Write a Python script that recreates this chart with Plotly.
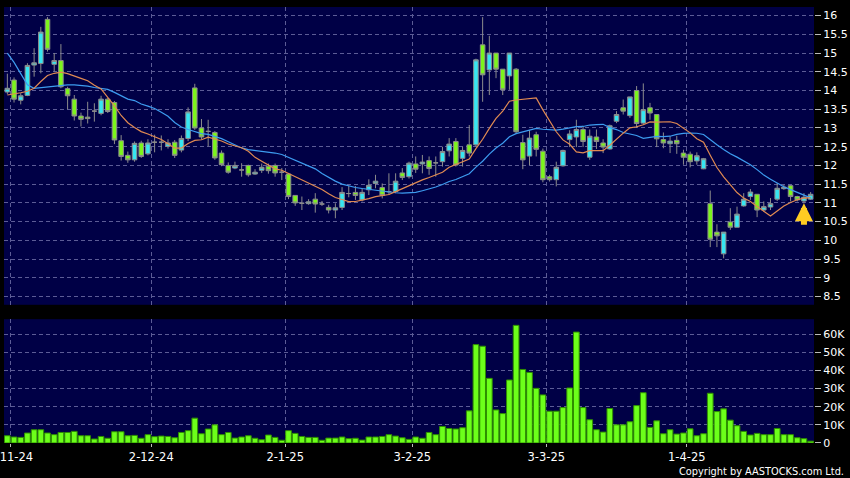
import numpy as np
import pandas as pd
import plotly.graph_objects as go

# ---------------- data ----------------
opens = [13.96, 14.28, 13.74, 13.87, 14.68, 14.72, 15.9, 14.7, 14.8, 14.05,
         13.77, 13.32, 13.29, 13.45, 13.39, 13.77, 13.68, 12.66, 12.27, 12.15,
         12.6, 12.31, 12.62, 12.62, 12.51, 12.62, 12.41, 12.72, 14.07, 13.0,
         12.91, 12.88, 12.33, 12.0, 11.93, 11.88, 12.0, 11.77, 11.87, 11.98,
         12.0, 11.82, 11.77, 11.2, 10.99, 10.98, 11.1, 10.97, 10.88, 10.81,
         10.88, 11.25, 11.28, 11.08, 11.35, 11.52, 11.41, 11.3, 11.3, 11.8,
         11.7, 12.04, 12.04, 12.13, 12.07, 12.1, 12.39, 12.64, 12.19, 12.55,
         12.55, 15.22, 14.55, 15.0, 14.57, 14.39, 14.57, 12.61, 12.25, 12.82,
         12.38, 11.7, 11.62, 11.99, 12.69, 12.76, 12.96, 12.22, 12.76, 12.6,
         12.44, 13.18, 13.54, 13.33, 14.0, 13.13, 13.54, 13.36, 12.69, 12.58,
         12.67, 12.33, 12.3, 12.12, 11.91, 10.98, 10.22, 9.64, 10.49, 10.35,
         10.92, 11.17, 11.23, 10.81, 10.89, 11.1, 11.38, 11.46, 11.17, 11.05,
         11.1]
highs = [14.45, 14.35, 13.93, 14.73, 15.13, 15.7, 15.96, 15.0, 15.24, 14.1,
         13.88, 13.41, 13.7, 13.66, 13.86, 13.8, 13.72, 12.81, 12.37, 12.64,
         12.66, 12.7, 12.82, 12.8, 12.7, 12.68, 12.8, 13.55, 14.18, 13.24,
         13.22, 12.92, 12.4, 12.08, 12.1, 12.06, 12.02, 11.9, 12.05, 12.05,
         12.05, 11.93, 11.8, 11.21, 11.17, 11.1, 11.26, 11.05, 10.95, 10.99,
         11.42, 11.45, 11.45, 11.39, 11.63, 11.75, 11.52, 11.79, 11.79, 11.93,
         12.1, 12.24, 12.28, 12.24, 12.24, 12.5, 12.73, 12.73, 12.5, 13.08,
         14.85, 15.96, 15.46, 15.0, 14.57, 15.0, 14.6, 12.82, 12.95, 12.9,
         12.45, 11.75, 12.1, 12.42, 12.94, 13.22, 13.06, 12.96, 12.96, 12.7,
         13.09, 13.45, 13.76, 13.83, 14.12, 14.19, 13.67, 13.36, 12.88, 12.78,
         12.79, 12.42, 12.37, 12.35, 12.2, 11.33, 10.43, 10.22, 10.86, 10.9,
         11.26, 11.37, 11.23, 11.04, 11.13, 11.53, 11.48, 11.48, 11.19, 11.26,
         11.29]
lows = [13.9, 13.68, 13.63, 13.85, 14.37, 14.46, 15.04, 14.5, 14.06, 13.5,
        13.2, 13.04, 13.12, 13.17, 13.34, 13.4, 12.57, 12.13, 12.07, 12.1,
        12.2, 12.27, 12.35, 12.4, 12.45, 12.2, 12.35, 12.65, 12.95, 12.7,
        12.51, 12.15, 11.98, 11.78, 11.9, 11.7, 11.7, 11.75, 11.8, 11.78,
        11.7, 11.61, 11.1, 10.92, 10.81, 10.95, 10.74, 10.92, 10.72, 10.59,
        10.81, 11.15, 11.08, 11.04, 11.21, 11.39, 11.12, 11.21, 11.26, 11.61,
        11.65, 11.8, 11.79, 11.75, 11.7, 11.97, 12.24, 11.97, 11.97, 12.24,
        12.5, 13.7, 13.88, 14.33, 13.88, 14.02, 12.84, 11.9, 12.01, 12.24,
        11.55, 11.57, 11.44, 11.97, 12.49, 12.49, 12.49, 12.15, 12.44, 12.33,
        12.42, 13.13, 13.36, 13.27, 13.0, 13.09, 13.22, 12.49, 12.46, 12.33,
        12.31, 12.02, 11.95, 12.02, 11.9, 9.82, 9.82, 9.52, 10.28, 10.35,
        10.9, 11.08, 10.62, 10.77, 10.81, 11.05, 11.35, 11.04, 11.04, 10.99,
        11.08]
closes = [14.06, 13.77, 13.86, 14.67, 14.74, 15.56, 15.1, 14.8, 14.1, 13.86,
          13.32, 13.23, 13.25, 13.45, 13.77, 13.44, 12.68, 12.24, 12.15, 12.59,
          12.24, 12.6, 12.62, 12.62, 12.6, 12.27, 12.72, 13.43, 13.0, 12.76,
          12.91, 12.2, 12.02, 11.82, 12.0, 11.88, 11.75, 11.82, 11.95, 11.86,
          11.8, 11.82, 11.17, 11.0, 10.99, 11.03, 10.97, 10.97, 10.81, 10.87,
          11.28, 11.25, 11.2, 11.28, 11.47, 11.58, 11.2, 11.3, 11.58, 11.68,
          12.06, 11.9, 12.09, 11.92, 12.07, 12.37, 12.57, 12.01, 12.4, 12.33,
          14.82, 14.42, 15.0, 14.57, 14.02, 15.0, 12.9, 12.15, 12.73, 12.43,
          11.62, 11.62, 11.95, 12.4, 12.84, 12.96, 12.64, 12.78, 12.64, 12.49,
          13.06, 13.36, 13.45, 13.83, 13.12, 13.49, 13.4, 12.71, 12.6, 12.65,
          12.58, 12.22, 12.1, 12.26, 12.18, 10.03, 10.12, 10.22, 10.35, 10.7,
          11.1, 11.29, 10.81, 10.9, 10.98, 11.39, 11.42, 11.17, 11.08, 11.15,
          11.23]
volumes_k = [4.0, 3.3, 3.1, 5.5, 7.3, 7.3, 5.5, 4.6, 5.8, 5.8,
             6.4, 4.0, 4.0, 2.2, 3.6, 2.6, 6.2, 6.2, 4.0, 4.2,
             2.6, 4.6, 3.5, 3.8, 3.6, 2.9, 5.8, 6.8, 13.7, 5.1,
             7.7, 10.0, 4.6, 5.8, 2.7, 3.3, 4.0, 2.6, 1.8, 4.4,
             3.1, 1.5, 6.8, 5.3, 3.6, 3.1, 3.1, 1.5, 2.7, 2.7,
             3.3, 2.4, 2.6, 1.6, 3.3, 3.3, 3.6, 4.6, 3.8, 2.9,
             2.0, 3.3, 2.6, 5.8, 4.6, 9.1, 8.0, 7.7, 8.4, 17.7,
             54.2, 53.3, 35.6, 18.2, 16.2, 34.7, 64.8, 40.5, 38.9, 30.1,
             26.5, 17.5, 17.5, 19.5, 30.3, 61.1, 19.5, 12.8, 7.3, 6.0,
             19.0, 10.0, 10.0, 11.7, 20.6, 27.7, 8.6, 12.2, 5.1, 7.3,
             4.9, 5.5, 7.8, 4.0, 5.1, 27.4, 17.3, 18.8, 12.6, 9.5,
             6.4, 4.4, 5.3, 4.6, 4.6, 8.0, 4.6, 4.6, 2.9, 2.4,
             1.0]
ma10_start = [13.88, 13.9, 13.94, 13.98, 14.06, 14.24, 14.4, 14.46, 14.49]
ma20_start = [15.0, 14.75, 14.45, 14.15, 14.06, 14.08, 14.1, 14.12, 14.14, 14.15,
              14.15, 14.14, 14.12, 14.08, 14.06, 14.03, 13.95, 13.85, 13.77]

date_labels = ["1-11-24", "2-12-24", "2-1-25", "3-2-25", "3-3-25", "1-4-25"]
date_label_days = [1, 22, 42, 61, 81, 102]   # trading-day index of each labelled date
price_ticks = [8.5, 9, 9.5, 10, 10.5, 11, 11.5, 12, 12.5, 13, 13.5, 14, 14.5, 15, 15.5, 16]
vol_ticks = [0, 10000, 20000, 30000, 40000, 50000, 60000]
vol_tick_text = ["0", "10K", "20K", "30K", "40K", "50K", "60K"]
marked_day = 119

# ---------------- derived ----------------
n = len(closes)
idx = np.arange(n)
o = np.array(opens); h = np.array(highs); l = np.array(lows); c = np.array(closes)
ma10 = pd.Series(closes).rolling(10).mean().to_numpy()
ma10[:len(ma10_start)] = ma10_start
ma20 = pd.Series(closes).rolling(20).mean().to_numpy()
ma20[:len(ma20_start)] = ma20_start
vol = np.array(volumes_k) * 1000

CYAN = "#36e6f2"
GREEN = "#7cf51c"
GREY = "#9a9a9a"
WICK = "#8c8c8c"
NAVY = "#000046"
GRID = "#5c5c96"

fig = go.Figure()

def add_candles(mask, fill):
    fig.add_trace(go.Candlestick(
        x=idx[mask], open=o[mask], high=h[mask], low=l[mask], close=c[mask],
        increasing=dict(fillcolor=fill, line=dict(color=WICK, width=1)),
        decreasing=dict(fillcolor=fill, line=dict(color=WICK, width=1)),
        whiskerwidth=0, xaxis="x", yaxis="y", hoverinfo="skip"))

add_candles(c > o, CYAN)
add_candles(c < o, GREEN)
add_candles(c == o, GREY)

fig.add_trace(go.Scatter(x=idx, y=ma20, mode="lines",
                         line=dict(color="#3d9cf0", width=1.2), xaxis="x", yaxis="y"))
fig.add_trace(go.Scatter(x=idx, y=ma10, mode="lines",
                         line=dict(color="#e08a52", width=1.2), xaxis="x", yaxis="y"))

fig.add_trace(go.Bar(x=idx, y=vol, marker=dict(color="#6cff1a", line=dict(color="#2f8f00", width=1)),
                     xaxis="x2", yaxis="y2"))

grid_pos = [d - 0.5 for d in date_label_days]
axis_font = dict(family="DejaVu Sans", size=11, color="white")
date_font = dict(family="DejaVu Sans", size=11.5, color="white")

common_x = dict(range=[-0.5, 120.5], showgrid=True, gridcolor=GRID, griddash="4px,3px",
                gridwidth=1, zeroline=False, showline=False, tickvals=grid_pos,
                ticktext=date_labels, fixedrange=True, ticklabeloverflow="allow",
                automargin=False)

fig.update_layout(
    width=850, height=478,
    margin=dict(l=4, r=36, t=7, b=35, autoexpand=False),
    paper_bgcolor="black", plot_bgcolor=NAVY,
    showlegend=False,
    bargap=0.15,
    boxgap=0.32, boxgroupgap=0,
    xaxis=dict(**common_x, anchor="y", showticklabels=False, ticks="",
               rangeslider=dict(visible=False)),
    xaxis2=dict(**common_x, anchor="y2", showticklabels=True, ticks="outside",
                ticklen=3, tickcolor="#bbbbbb", tickfont=date_font),
    yaxis=dict(domain=[0.317, 1], range=[8.28, 16.23], side="right", tickvals=price_ticks,
               ticks="outside", ticklen=6, tickcolor="#bbbbbb", tickfont=axis_font,
               showgrid=True, gridcolor=GRID, griddash="4px,3px", zeroline=False,
               anchor="x", ticklabeloverflow="allow", automargin=False, fixedrange=True),
    yaxis2=dict(domain=[0, 0.284], range=[0, 68200], side="right", tickvals=vol_ticks,
                ticktext=vol_tick_text, ticks="outside", ticklen=6, tickcolor="#bbbbbb",
                tickfont=axis_font, showgrid=True, gridcolor=GRID, griddash="4px,3px",
                zeroline=False, anchor="x2", ticklabeloverflow="allow", automargin=False,
                fixedrange=True),
)

fig.add_annotation(x=marked_day, y=l[marked_day], xref="x", yref="y", text="",
                   showarrow=True, arrowhead=2, arrowsize=0.6, arrowwidth=6,
                   arrowcolor="#ffcc22", ax=0, ay=23, standoff=0)

fig.add_annotation(x=1.0395, y=-0.066, xref="paper", yref="paper", xanchor="right",
                   yanchor="middle", showarrow=False, text="Copyright by AASTOCKS.com Ltd.",
                   font=dict(family="DejaVu Sans", size=9.8, color="white"))

fig.write_html("out.html", config={"displayModeBar": False},
               post_script="document.body.style.margin='0';document.body.style.padding='0';"
                           "document.body.style.background='#000';")
